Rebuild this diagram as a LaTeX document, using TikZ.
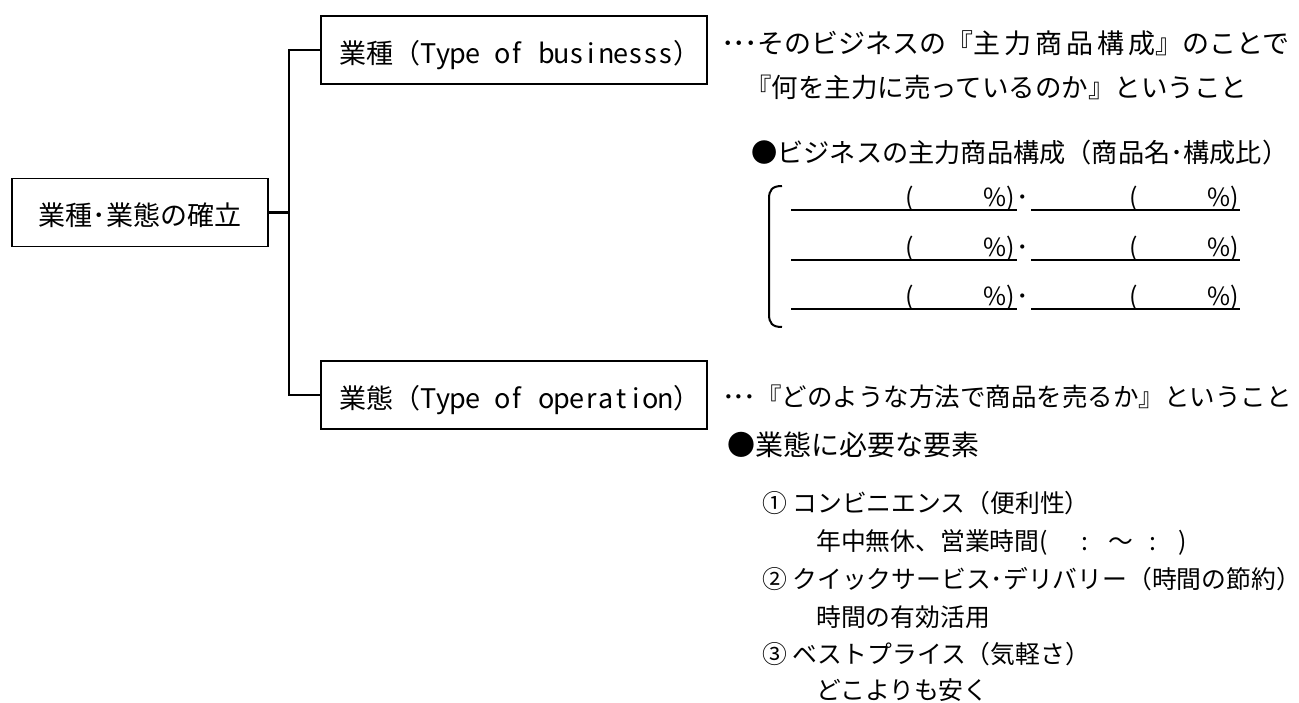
\documentclass[tikz,border=0pt]{standalone}
\usepackage{fontspec}
\setmainfont{Noto Sans CJK JP}
\def\mw#1{\mwA#1\relax}
\def\mwA#1{\ifx#1\relax\else\makebox[0.55em]{#1}\expandafter\mwA\fi}
\newcommand\hs{\hspace{0.55em}}
\newcommand\ls{\hspace{4pt}}
\begin{document}
\begin{tikzpicture}[x=1pt,y=-1pt,
  every node/.style={inner sep=0pt},
  fA/.style={font=\fontsize{27}{27}\selectfont, text height=23.8pt, text depth=3.2pt},
  fB/.style={font=\fontsize{26.5}{26.5}\selectfont, text height=23.3pt, text depth=3.2pt},
  fC/.style={font=\fontsize{26.2}{26.2}\selectfont, text height=23.1pt, text depth=3.1pt},
  fD/.style={font=\fontsize{25.5}{25.5}\selectfont, text height=22.4pt, text depth=3.1pt},
  fE/.style={font=\fontsize{28}{28}\selectfont, text height=24.6pt, text depth=3.4pt},
  fL/.style={font=\fontsize{24.8}{24.8}\selectfont, text height=21.8pt, text depth=3pt},
  box/.style={draw, line width=1.8pt, minimum height=68pt, font=\fontsize{27}{27}\selectfont, text height=26.8pt, text depth=0.2pt},
  link/.style={line width=2.5pt},
  tx/.style={anchor=west},
  rowtxt/.style={font=\fontsize{25}{25}\selectfont},
  uline/.style={line width=2.4pt},
  brk/.style={line width=2pt}]
\fill[white] (0,0) rectangle (1299,702);
\useasboundingbox (0,0) rectangle (1299,702);

% boxes
\node[box, minimum width=256pt] (root) at (140,212.5) {業種･業態の確立};
\node[box, minimum width=386pt] (typ) at (514,50) {業種（\mw{Type}\hs\mw{of}\hs\mw{businesss}）\kern-0.45em};
\node[box, minimum width=386pt] (op) at (514,395) {業態（\mw{Type}\hs\mw{of}\hs\mw{operation}）\kern-0.45em};

% connectors
\coordinate (jt) at (289,50);
\coordinate (jb) at (289,395);
\draw[link] (root.east) -- (root.east -| jt);
\draw[link] (typ.west) -- (jt) -- (jb) -- (op.west);

% upper texts
\node[tx, fA] (t1) at (721,43) {･\kern-2pt･\kern-2pt･そのビジネスの『主\ls 力\ls 商\ls 品\ls 構\ls 成』のことで};
\node[tx, fB] (t2) at (745,87) {『何を主力に売っているのか』ということ};
\node[tx, fC] (b1) at (751,152) {●ビジネスの主力商品構成（商品名･構成比）};

% bracket
\draw[brk] (782,186) .. controls (772,186) and (769,190) .. (769,199) -- (769,314) .. controls (769,323) and (772,327) .. (782,327);

% rows
\foreach \r/\yu in {1/210,2/260,3/309}{
  \draw[uline] (791,\yu) -- (1017,\yu);
  \draw[uline] (1031,\yu) -- (1240,\yu);
  \node[rowtxt, anchor=base] (pa\r) at (910,\yu-4) {(};
  \node[rowtxt, anchor=base east] (pb\r) at (1015,\yu-4) {\%)};
  \node[rowtxt, anchor=base] (dt\r) at (1023,\yu-4) {･};
  \node[rowtxt, anchor=base] (pc\r) at (1134,\yu-4) {(};
  \node[rowtxt, anchor=base east] (pd\r) at (1239,\yu-4) {\%)};
}

% lower texts
\node[tx, fD] (t3) at (722,397) {･\kern-2pt･\kern-2pt･『どのような方法で商品を売るか』ということ};
\node[tx, fE] (b2) at (727,445) {●業態に必要な要素};
\node[tx, fL] (i1) at (762,503) {① コンビニエンス（便利性）};
\node[tx, fL] (s1) at (816,541) {年中無休、営業時間(\hspace{34pt}:\hspace{20pt}～\hspace{16pt}:\hspace{22pt})};
\node[tx, fL] (i2) at (762,579) {② クイックサービス･デリバリー（時間の節約）};
\node[tx, fL] (s2) at (816,617) {時間の有効活用};
\node[tx, fL] (i3) at (762,654) {③ ベストプライス（気軽さ）};
\node[tx, fL] (s3) at (816,690) {どこよりも安く};
\end{tikzpicture}
\end{document}
